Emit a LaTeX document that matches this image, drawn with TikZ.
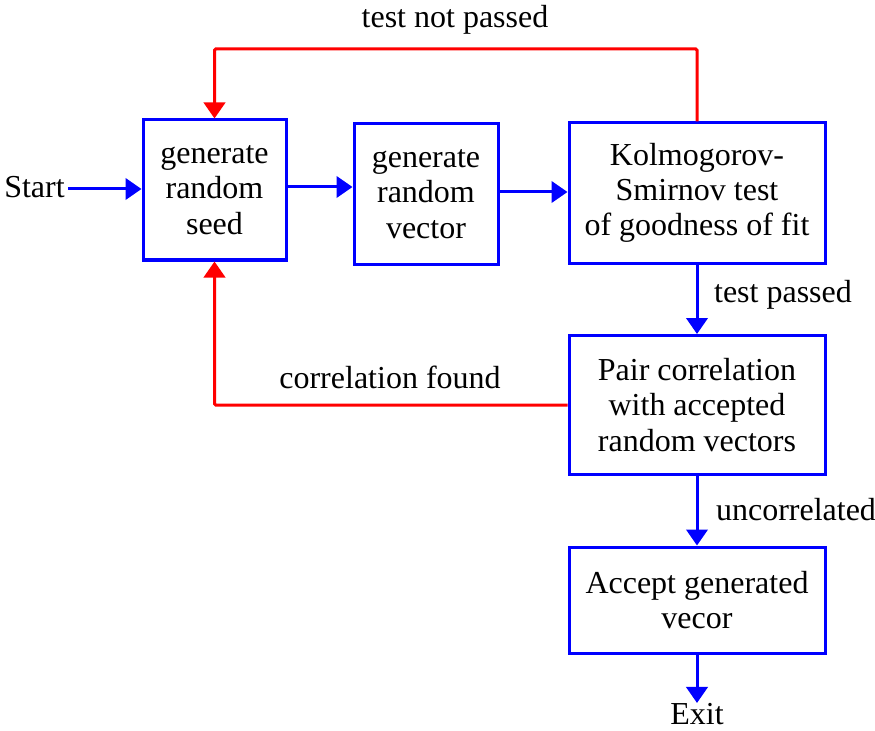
\documentclass[tikz,border=0pt]{standalone}
\usepackage{fontspec}
\setmainfont{Liberation Serif}
\usetikzlibrary{arrows.meta}
\begin{document}
\begin{tikzpicture}[x=0.75pt,y=-0.75pt,
  font=\fontsize{24pt}{26.5pt}\selectfont,
  box/.style={draw=blue, line width=2.25pt, align=center, inner sep=0pt, minimum height=#1},
  flow/.style={draw=blue, line width=2.25pt, -{Triangle[length=12pt,width=16pt]}, blue},
  back/.style={draw=red, line width=2.25pt, -{Triangle[length=12pt,width=16pt]}, red},
  lbl/.style={inner sep=0pt}]
\useasboundingbox (0,0) rectangle (875,731);

% process boxes
\node[box=140*0.75pt, minimum width=143*0.75pt] (seed) at (214.5,190) {generate\\random\\seed};
\node[box=140*0.75pt, minimum width=144*0.75pt] (vec) at (426,194) {generate\\random\\vector};
\node[box=140*0.75pt, minimum width=256*0.75pt] (ks) at (697,193) {Kolmogorov-\\Smirnov test\\of goodness of fit};
\node[box=139*0.75pt, minimum width=256*0.75pt] (pair) at (697,405) {Pair correlation\\with accepted\\random vectors};
\node[box=106*0.75pt, minimum width=256*0.75pt] (acc) at (697,600) {Accept generated\\vecor};

% terminals
\node[lbl, anchor=east] (start) at (65,187) {Start};
\node[lbl] (exit) at (697,714) {Exit};

% edge labels
\node[lbl] (tnp) at (455,20) {test not passed};
\node[lbl] (tp) at (783,295) {test passed};
\node[lbl] (cf) at (390,377) {correlation found};
\node[lbl] (unc) at (796,510) {uncorrelated};

% main flow
\draw[flow] (start.east) ++(3,2) coordinate (s0) -- (s0 -| seed.west);
\draw[flow] (seed.east |- 0,187) coordinate (a0) -- (a0 -| vec.west);
\draw[flow] (vec.east |- 0,192) coordinate (b0) -- (b0 -| ks.west);
\draw[flow] (ks.south) -- (pair.north);
\draw[flow] (pair.south) -- (acc.north);
\draw[flow] (acc.south) -- (exit.north);

% feedback loops
\draw[back, rounded corners=1pt] (ks.north) -- (697,49) -| (seed.north);
\draw[back, rounded corners=1pt] (pair.west) -| (seed.south);
\end{tikzpicture}
\end{document}
